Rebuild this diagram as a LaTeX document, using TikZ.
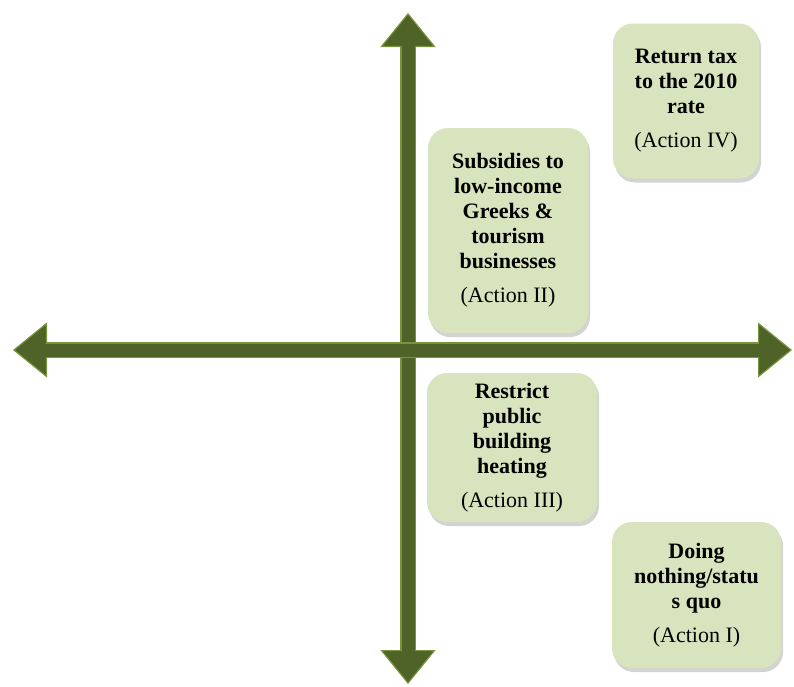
\documentclass[tikz,border=0pt]{standalone}
\usepackage{fontspec}
\setmainfont{Liberation Serif}
\usetikzlibrary{arrows.meta,shapes,positioning,shadows}
\definecolor{dfolive}{RGB}{79,98,40}
\definecolor{dfolivelight}{RGB}{119,147,60}
\definecolor{dfsage}{RGB}{215,228,189}
\tikzstyle{quadaxis} = [line width=13pt, color=dfolive,
  {Triangle[width=55pt,length=34pt,line width=1.2pt,fill=dfolive,color=dfolivelight]}-{Triangle[width=55pt,length=34pt,line width=1.2pt,fill=dfolive,color=dfolivelight]},
  preaction={draw=dfolivelight, line width=16pt, -, shorten <=30pt, shorten >=30pt},
  postaction={draw=dfolive, line width=13pt, -, shorten <=30pt, shorten >=30pt}]
\tikzstyle{action} = [rectangle, rounded corners=20pt, align=center, fill=dfsage,
  font=\fontsize{22pt}{25pt}\selectfont\bfseries,
  drop shadow={shadow xshift=2pt, shadow yshift=-4pt, opacity=0.35}]

\begin{document}
\begin{tikzpicture}[x=1pt, y=-1pt]
\useasboundingbox (0,0) rectangle (794,686);
% Axes
\coordinate (vtop) at (408,13);
\coordinate (vbottom) at (408,684);
\coordinate (hleft) at (13,350);
\coordinate (hright) at (792,350);
\draw[quadaxis] (vbottom) -- (vtop);
\draw[quadaxis] (hleft) -- (hright);

% Actions
\node (actfour) [action, minimum width=146pt, minimum height=155pt] at (686,101)
  {Return tax\\to the 2010\\rate\\[9pt]\textnormal{(Action IV)}};
\node (acttwo) [action, minimum width=160pt, minimum height=205pt] at (508,230.5)
  {Subsidies to\\low-income\\Greeks \&\\tourism\\businesses\\[9pt]\textnormal{(Action II)}};
\node (actthree) [action, minimum width=170pt, minimum height=149pt] at (512,447.5)
  {Restrict\\public\\building\\heating\\[9pt]\textnormal{(Action III)}};
\node (actone) [action, minimum width=169pt, minimum height=146pt] at (696.5,595)
  {Doing\\nothing/statu\\s quo\\[9pt]\textnormal{(Action I)}};
\end{tikzpicture}
\end{document}
